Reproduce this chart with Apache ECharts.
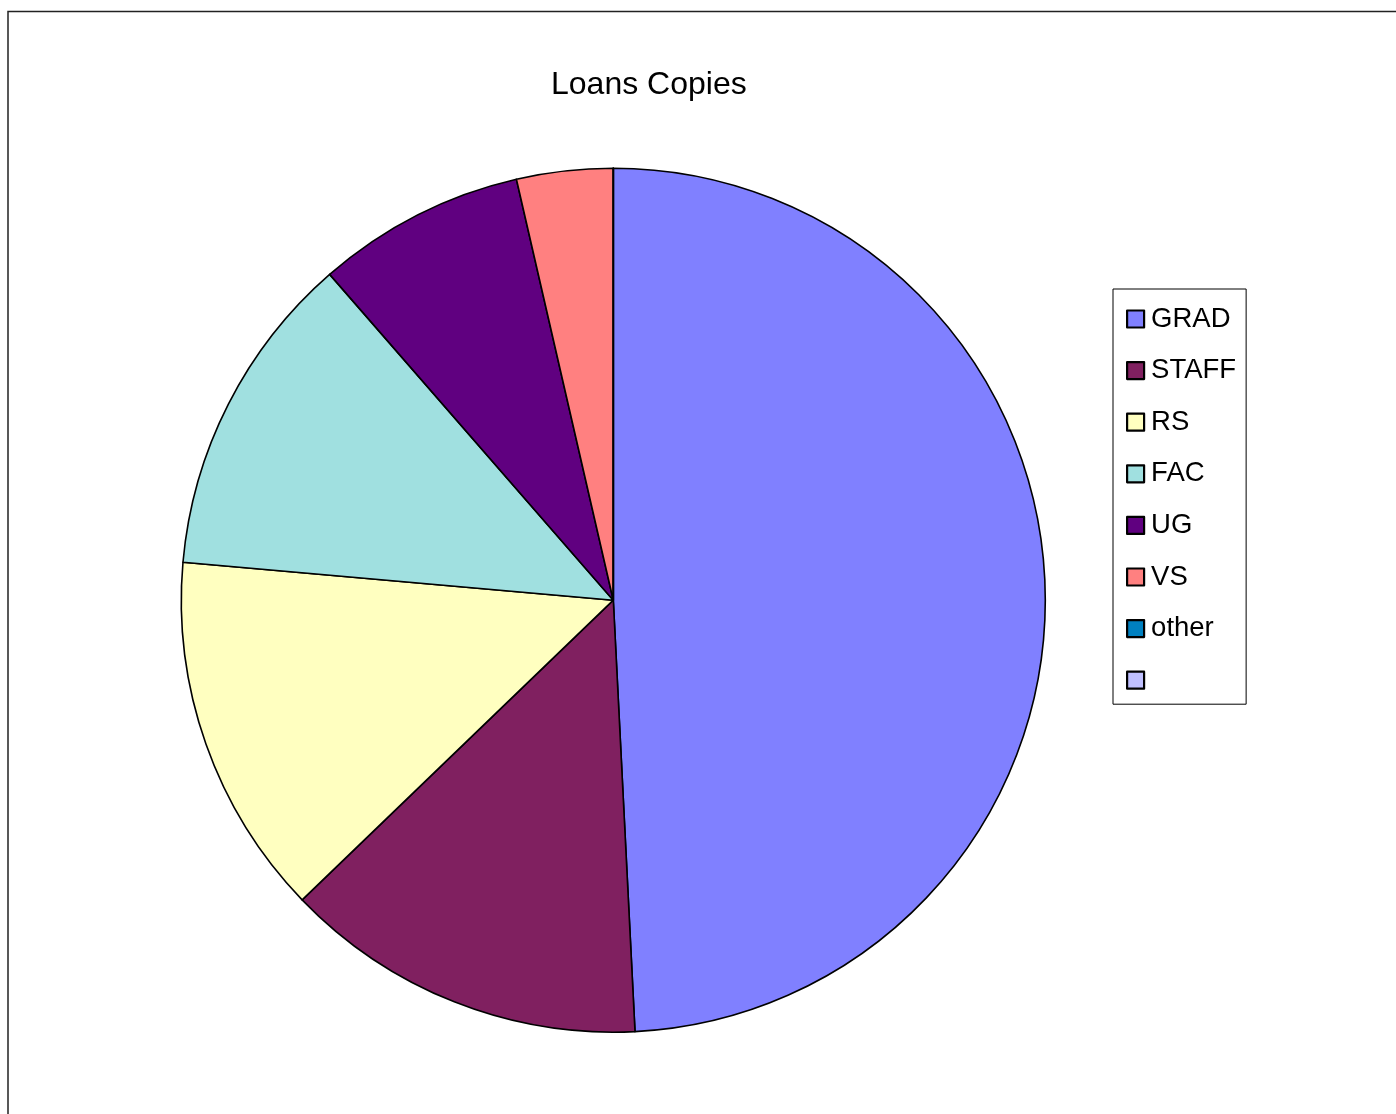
<!DOCTYPE html>
<html>
<head>
<meta charset="utf-8">
<title>Loans Copies</title>
<script src="https://cdn.jsdelivr.net/npm/echarts@6/dist/echarts.min.js"></script>
<style>
  html, body { margin: 0; padding: 0; background: #fff; }
  #chart { width: 1396px; height: 1114px; }
</style>
</head>
<body>
<div id="chart"></div>
<script>
// Loan copies by borrower group (percent of total)
const categories = ['GRAD', 'STAFF', 'RS', 'FAC', 'UG', 'VS', 'other', ' '];
const values = [49.2, 13.6, 13.6, 12.2, 7.8, 3.6, 0, 0];
const colors = ['#8080FF', '#802060', '#FFFFC0', '#A0E0E0', '#600080', '#FF8080', '#0080C0', '#C0C0FF'];

const FONT = "'Liberation Sans', Arial, sans-serif";

const chart = echarts.init(document.getElementById('chart'), null, { renderer: 'canvas' });

chart.setOption({
  animation: false,
  backgroundColor: '#ffffff',
  title: {
    text: 'Loans Copies',
    left: 546,
    top: 64,
    textStyle: { fontFamily: FONT, fontSize: 32, fontWeight: 'normal', color: '#000' }
  },
  graphic: [{
    type: 'rect',
    silent: true,
    shape: { x: 8, y: 11.5, width: 1600, height: 1300 },
    style: { fill: 'none', stroke: '#222', lineWidth: 1.5 }
  }],
  legend: {
    orient: 'vertical',
    left: 1113,
    top: 289,
    data: categories,
    icon: 'rect',
    itemWidth: 17,
    itemHeight: 17,
    itemGap: 23.6,
    padding: [16, 10, 10, 13],
    borderColor: '#000',
    borderWidth: 1,
    selectedMode: false,
    itemStyle: { borderColor: '#000', borderWidth: 2.2 },
    textStyle: {
      fontFamily: FONT, fontSize: 27.5, lineHeight: 27, color: '#000',
      padding: [0, 0, 0, 2]
    }
  },
  series: [{
    type: 'pie',
    center: [613.3, 600.2],
    radius: 432,
    startAngle: 90,
    clockwise: true,
    minAngle: 0,
    avoidLabelOverlap: false,
    label: { show: false },
    labelLine: { show: false },
    emphasis: { disabled: true },
    itemStyle: { borderColor: '#000', borderWidth: 1.6 },
    data: categories.map((name, i) => ({
      name: name,
      value: values[i],
      itemStyle: { color: colors[i] }
    }))
  }]
});
</script>
</body>
</html>
